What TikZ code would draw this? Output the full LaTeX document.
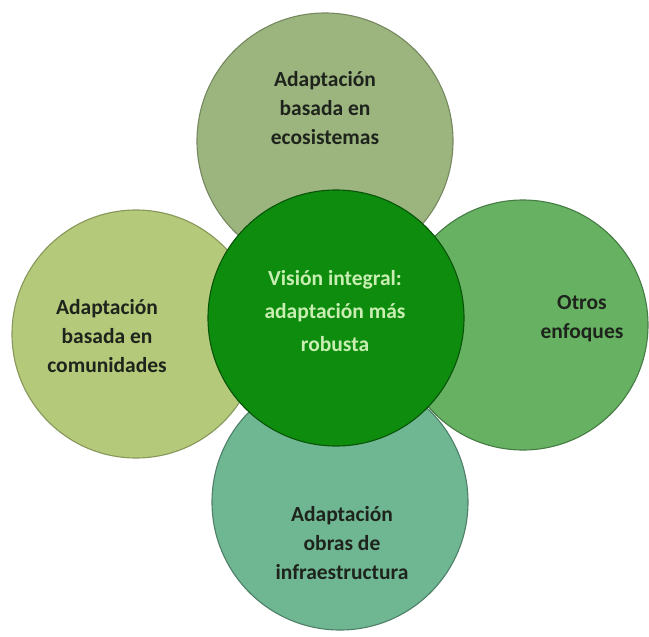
\documentclass[tikz,border=0pt]{standalone}
\usepackage{fontspec}
\setmainfont{Carlito}
\usepackage{tikz}
\usetikzlibrary{positioning}
\definecolor{ecogreen}{RGB}{156, 181, 127}
\definecolor{comgreen}{RGB}{180, 201, 122}
\definecolor{othgreen}{RGB}{102, 177, 98}
\definecolor{infgreen}{RGB}{111, 182, 147}
\definecolor{hubgreen}{RGB}{14, 140, 14}
\definecolor{hubtext}{RGB}{200, 238, 178}
\definecolor{labeltext}{RGB}{30, 36, 28}

\begin{document}
\begin{tikzpicture}[x=1pt, y=-1pt,
    petal/.style={circle, inner sep=0pt, line width=1.1pt},
    petaltext/.style={align=center, text=labeltext, font=\fontsize{21.5}{29}\selectfont\bfseries}]
    \useasboundingbox (0,0) rectangle (649,637);
    % --- Outer circles ---
    \node[petal, fill=ecogreen, draw=ecogreen!75!black, minimum size=256pt] (eco) at (325, 141) {};
    \node[petal, fill=comgreen, draw=comgreen!75!black, minimum size=248pt] (com) at (136, 334) {};
    \node[petal, fill=othgreen, draw=othgreen!70!black, minimum size=250pt] (oth) at (523, 325) {};
    \node[petal, fill=infgreen, draw=infgreen!70!black, minimum size=256pt] (inf) at (340, 502) {};
    % --- Central circle ---
    \node[petal, fill=hubgreen, draw=hubgreen!60!black, minimum size=256pt] (hub) at (336, 318) {};
    % --- Labels ---
    \node[petaltext] (ecoTxt) at (325, 108) {Adaptación\\basada en\\ecosistemas};
    \node[petaltext] (comTxt) at (107, 336) {Adaptación\\basada en\\comunidades};
    \node[petaltext] (othTxt) at (582, 319) {Otros\\enfoques};
    \node[petaltext] (infTxt) at (342, 543) {Adaptación\\obras de\\infraestructura};
    \node[align=center, text=hubtext, font=\fontsize{21.5}{33}\selectfont\bfseries] (hubTxt) at (335, 311) {Visión integral:\\adaptación más\\robusta};
\end{tikzpicture}
\end{document}
